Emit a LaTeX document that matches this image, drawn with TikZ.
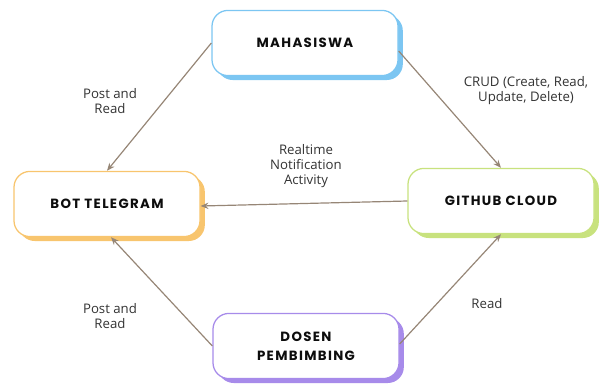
\documentclass[tikz,border=0pt]{standalone}
\usepackage{fontspec}
\setmainfont{Open Sans}
\newfontfamily\boxfont{Poppins}[LetterSpace=10]
\usetikzlibrary{arrows.meta,shadows}

\definecolor{lineC}{HTML}{968676}
\definecolor{blueC}{HTML}{7CC6F2}
\definecolor{orangeC}{HTML}{F8C56E}
\definecolor{greenC}{HTML}{C8E27E}
\definecolor{purpleC}{HTML}{A78BEA}

\begin{document}
\begin{tikzpicture}
  [x=0.025cm,y=-0.025cm,
   boxN/.style={draw=#1,fill=white,line width=0.9pt,rounded corners=0.4cm,
     minimum width=4.65cm,minimum height=1.63cm,align=center,
     font=\boxfont\bfseries\fontsize{9.5}{13.5}\selectfont,text=black!95,
     general shadow={shadow xshift=0.12cm,shadow yshift=-0.11cm,fill=#1}},
   lbl/.style={align=center,font=\fontsize{9.4}{10.6}\selectfont,text=black!80},
   link/.style={draw=lineC,line width=0.85pt,-{Stealth[length=5.5pt,width=4.5pt]}}]

  \useasboundingbox (0,0) rectangle (605,387);

  \node[boxN=blueC]   (mhs) at (305,43)  {MAHASISWA};
  \node[boxN=orangeC] (bot) at (107,204) {BOT TELEGRAM};
  \node[boxN=greenC]  (git) at (501,201) {GITHUB CLOUD};
  \node[boxN=purpleC] (dsn) at (306,346) {DOSEN\\PEMBIMBING};

  \draw[link] (mhs.west) -- (bot.north);
  \draw[link] ([yshift=-0.2cm]mhs.east) -- (git.north);
  \draw[link] (git.west) -- ([yshift=-0.05cm]bot.east);
  \draw[link] (dsn.west) -- ([xshift=0.1cm]bot.south);
  \draw[link] ([yshift=0.05cm]dsn.east) -- (git.south);

  \node[lbl] (l1) at (110,101) {Post and\\Read};
  \node[lbl] (l2) at (526,91)  {CRUD (Create, Read,\\Update, Delete)};
  \node[lbl] (l3) at (306,166) {Realtime\\Notification\\Activity};
  \node[lbl] (l4) at (110,316) {Post and\\Read};
  \node[lbl] (l5) at (487,304) {Read};
\end{tikzpicture}
\end{document}
